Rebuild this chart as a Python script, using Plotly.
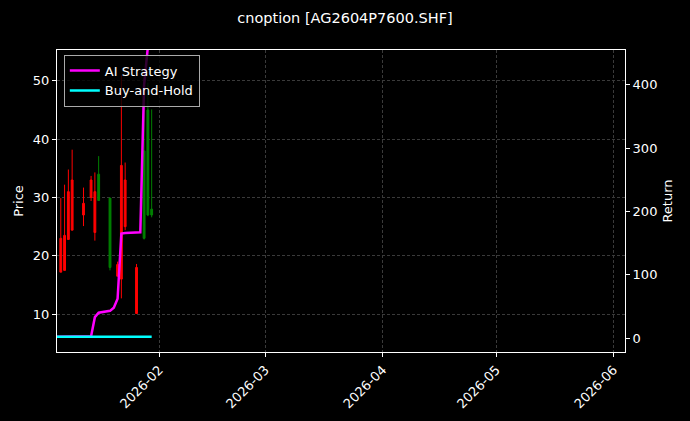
import plotly.graph_objects as go

dates = ["2026-01-06", "2026-01-07", "2026-01-08", "2026-01-09", "2026-01-12",
         "2026-01-14", "2026-01-15", "2026-01-16", "2026-01-19", "2026-01-21",
         "2026-01-22", "2026-01-23", "2026-01-26", "2026-01-28", "2026-01-29",
         "2026-01-30"]
open_ = [23.0, 23.5, 31.0, 33.0, 29.0, 33.0, 31.0, 29.5, 18.0, 18.5, 35.5, 33.0, 18.0, 23.0, 27.0, 27.0]
high = [29.9, 32.2, 34.8, 38.2, 31.7, 33.7, 34.3, 37.1, 29.9, 19.0, 51.0, 36.0, 18.6, 45.7, 49.7, 45.1]
low = [17.2, 17.5, 22.8, 24.4, 25.1, 29.4, 22.6, 29.4, 17.5, 16.5, 12.7, 24.4, 10.1, 22.8, 26.8, 26.6]
close = [17.2, 17.5, 22.8, 24.4, 27.0, 30.0, 24.0, 34.0, 29.9, 16.5, 16.0, 25.0, 10.1, 38.0, 45.0, 28.0]

ret_dates = ["2026-01-05", "2026-01-06", "2026-01-07", "2026-01-08", "2026-01-09", "2026-01-12",
             "2026-01-13", "2026-01-14", "2026-01-15", "2026-01-16", "2026-01-19",
             "2026-01-20", "2026-01-21", "2026-01-22", "2026-01-23", "2026-01-26",
             "2026-01-27", "2026-01-28", "2026-01-29", "2026-01-30"]
strategy = [2, 2, 2, 2, 2, 2, 3, 3, 33, 40, 43, 48, 62, 165, 166, 167, 167, 400, 460, 470]
buy_hold = [2, 2, 2, 2, 2, 2, 2, 2, 2, 2, 2, 2, 2.5, 2, 2, 2, 2, 2, 2, 2]

fig = go.Figure()
fig.add_trace(go.Candlestick(
    x=dates, open=open_, high=high, low=low, close=close,
    increasing=dict(line=dict(color="green", width=1), fillcolor="green"),
    decreasing=dict(line=dict(color="red", width=1), fillcolor="red"),
    whiskerwidth=0, showlegend=False, yaxis="y"))
fig.add_trace(go.Scatter(x=ret_dates, y=strategy, mode="lines", name="AI Strategy",
                         line=dict(color="#ff00ff", width=2.5), yaxis="y2"))
fig.add_trace(go.Scatter(x=ret_dates, y=buy_hold, mode="lines", name="Buy-and-Hold",
                         line=dict(color="#00ffff", width=2.5), yaxis="y2"))

grid = dict(showgrid=True, gridcolor="#3a3a3a", griddash="3px,2px", gridwidth=0.6,
            showline=True, linecolor="white", linewidth=1.2, mirror=True,
            ticks="outside", tickcolor="white", ticklen=4, zeroline=False,
            automargin=False, tickfont=dict(size=13))
fig.update_layout(
    width=690, height=421,
    paper_bgcolor="black", plot_bgcolor="black",
    font=dict(family="DejaVu Sans", color="white", size=13),
    title=dict(text="cnoption [AG2604P7600.SHF]", x=0.5, y=0.957, xanchor="center",
               yanchor="middle", font=dict(size=14.5)),
    margin=dict(l=57, r=65, t=50, b=69),
    xaxis=dict(**grid, type="date", range=["2026-01-05", "2026-06-04"],
               tickvals=["2026-02-01", "2026-03-01", "2026-04-01", "2026-05-01", "2026-06-01"],
               tickformat="%Y-%m", tickangle=-45, rangeslider=dict(visible=False)),
    yaxis=dict(**grid, title=dict(text="Price", standoff=6, font=dict(size=13)), range=[3.5, 55.3],
               tickvals=[10, 20, 30, 40, 50]),
    yaxis2=dict(showgrid=False, showline=False, ticks="outside", tickcolor="white", ticklen=4,
                zeroline=False, overlaying="y", side="right", automargin=False,
                tickfont=dict(size=13),
                title=dict(text="Return", standoff=6, font=dict(size=13)), range=[-22, 455],
                tickvals=[0, 100, 200, 300, 400]),
    legend=dict(x=0.012, y=0.985, xanchor="left", yanchor="top", bgcolor="rgba(0,0,0,0.8)",
                bordercolor="#aaa", borderwidth=1, font=dict(size=13)),
)
fig.write_html("out.html", config={"displayModeBar": False},
               post_script="document.body.style.margin='0';document.body.style.background='black';")
